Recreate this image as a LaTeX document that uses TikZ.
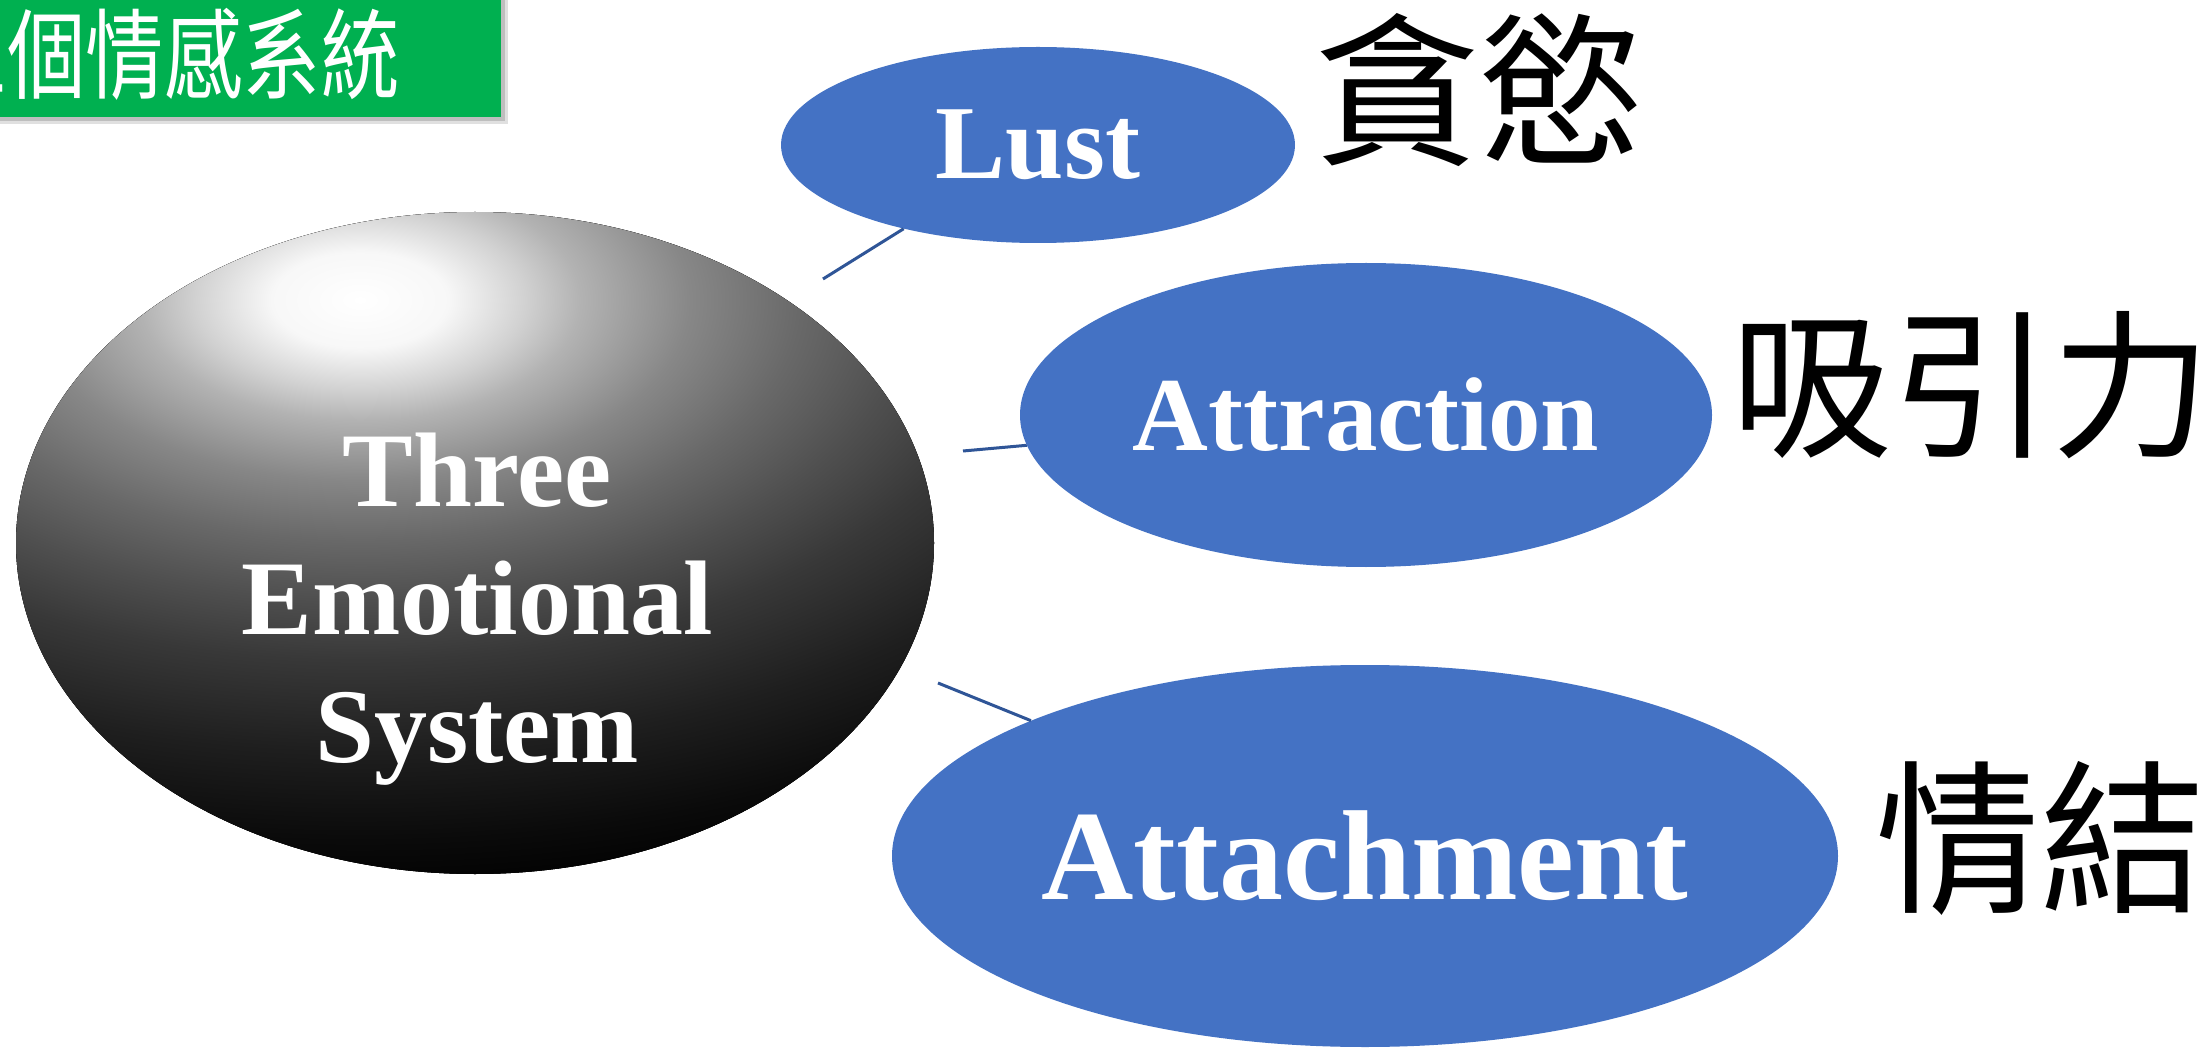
\documentclass[tikz,border=0pt]{standalone}
\usepackage{fontspec}
\setmainfont{Liberation Serif}
\newfontfamily\cjk{Noto Sans CJK TC}
\usetikzlibrary{shapes.geometric}
\definecolor{ovalblue}{RGB}{68,114,196}
\definecolor{lineblue}{RGB}{47,85,151}
\definecolor{bannergreen}{RGB}{0,176,80}
\pgfdeclareradialshading{emoball}{\pgfpoint{0bp}{0bp}}{%
  color(0bp)=(white);
  color(2bp)=(white!97!black);
  color(3.75bp)=(white!82!black);
  color(5bp)=(white!70!black);
  color(7.5bp)=(white!53!black);
  color(10bp)=(white!41!black);
  color(12.5bp)=(white!31!black);
  color(15bp)=(white!22!black);
  color(18.75bp)=(white!12!black);
  color(22.5bp)=(white!4!black);
  color(25bp)=(black);
  color(50bp)=(black)}
\tikzset{
  oval/.style={ellipse, fill=ovalblue, draw=none, inner sep=0pt, text=white},
  conn/.style={draw=lineblue, line width=3pt},
  cjklabel/.style={inner sep=0pt, text=black},
}
\begin{document}
\begin{tikzpicture}[x=1pt,y=-1pt]
\useasboundingbox (0,0) rectangle (2212,1048);
\fill[white] (0,0) rectangle (2212,1048);
% banner
\fill[black,opacity=0.12] (0,0) rectangle (508,124);
\fill[black,opacity=0.15] (0,0) rectangle (505,121);
\fill[bannergreen] (0,0) rectangle (501,117);
\begin{scope}
\clip (0,0) rectangle (501,117);
\node[anchor=west, inner sep=0pt, text=white] (title) at (-71,54)
  {\scalebox{0.8}[1]{\fontsize{98}{100}\selectfont\cjk 三個情感系統}};
\end{scope}
% big ellipse
\node[ellipse, minimum width=918pt, minimum height=662pt, inner sep=0pt,
  fill=black, draw=none] (sys) at (475,543) {};
\begin{scope}
\clip (475,543) ellipse [x radius=459pt, y radius=331pt];
\fill[shading=emoball] (-740,-300) rectangle (1460,900);
\end{scope}
\node[align=center, text=white, inner sep=0pt,
  font=\fontsize{106}{128}\selectfont\bfseries] (systext) at (477,609)
  {Three\\Emotional\\System};
% small ellipses
\node[oval, minimum width=514pt, minimum height=196pt,
  font=\fontsize{105}{110}\selectfont\bfseries] (lust) at (1038,145) {Lust};
\node[oval, minimum width=692pt, minimum height=304pt,
  font=\fontsize{105}{110}\selectfont\bfseries] (attr) at (1366,415) {Attraction};
\node[oval, minimum width=946pt, minimum height=382pt,
  font=\fontsize{128}{130}\selectfont\bfseries] (atta) at (1365,856) {Attachment};
% connectors
\coordinate (c1) at (823,279);
\coordinate (c2) at (963,451);
\coordinate (c3) at (938,683);
\draw[conn] (c1) -- (lust);
\draw[conn] (c2) -- (attr);
\draw[conn] (c3) -- (atta);
% chinese labels
\node[cjklabel, font=\fontsize{165}{170}\selectfont\cjk] (zh1) at (1479,90) {貪慾};
\node[cjklabel, font=\fontsize{160}{165}\selectfont\cjk] (zh2) at (1971,385) {吸引力};
\node[cjklabel, font=\fontsize{165}{170}\selectfont\cjk] (zh3) at (2040,838) {情結};
\end{tikzpicture}
\end{document}
